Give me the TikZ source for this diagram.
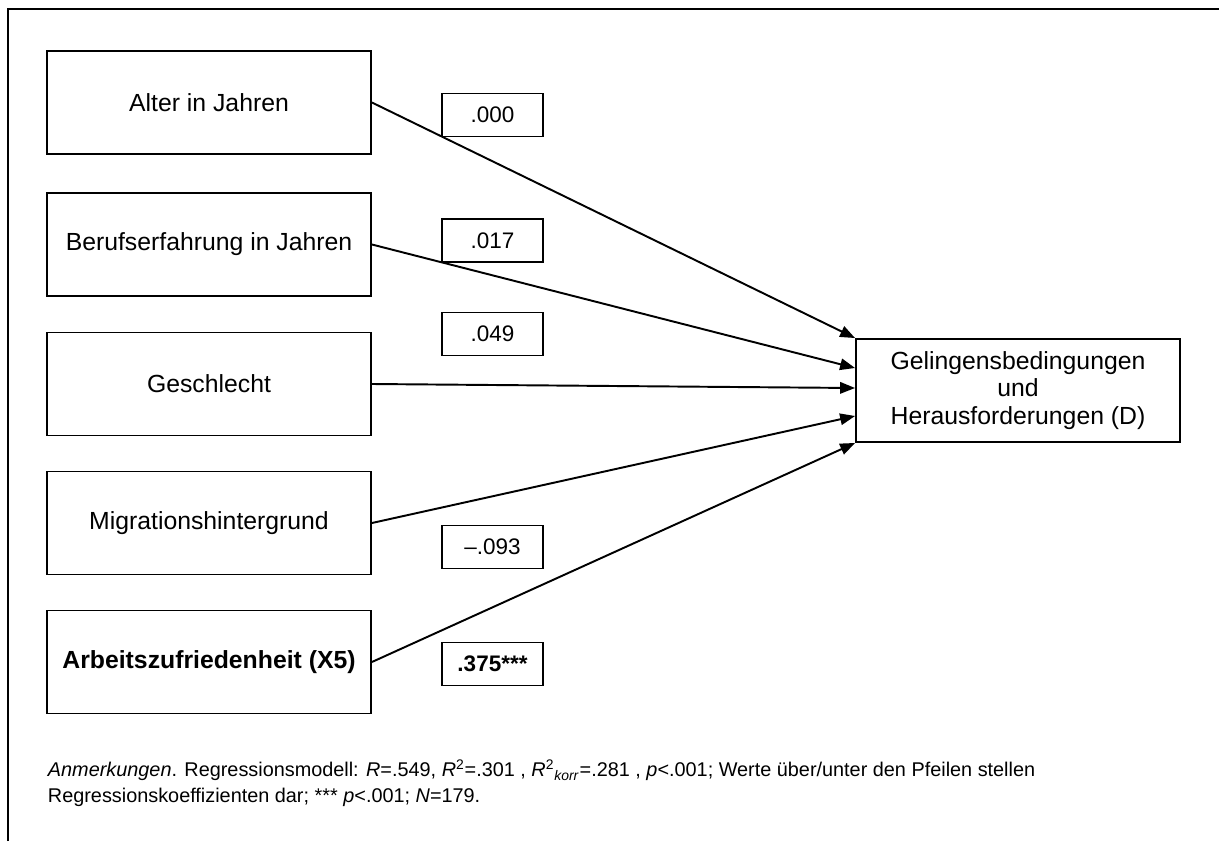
\documentclass[tikz,border=0pt]{standalone}
\usepackage{fontspec}
\setmainfont{Liberation Sans}
\usetikzlibrary{arrows.meta,calc,positioning}

\begin{document}
\begin{tikzpicture}[x=0.02cm, y=-0.02cm, line width=1.1pt,
  box/.style={draw, minimum width=6.48cm, minimum height=2.06cm, inner sep=0pt, align=center, font=\fontsize{14.1}{15.8}\selectfont},
  wert/.style={draw, minimum width=2.02cm, minimum height=0.86cm, inner sep=0pt, font=\fontsize{12.8}{14}\selectfont},
  pfeil/.style={-{Triangle[length=8.5pt,width=6.5pt]}}]

\useasboundingbox (0,0) rectangle (1219,841);

% Rahmen
\draw[line width=1.3pt] (8,841) -- (8,9) -- (1219,9);

\node[box] (alter)  at (209,102.5) {Alter in Jahren};
\node[box] (beruf)  at (209,244.5) {Berufserfahrung in Jahren};
\node[box] (geschl) at (209,384)   {Geschlecht};
\node[box] (migr)   at (209,523)   {Migrationshintergrund};
\node[box] (arbeit) at (209,662)   {\textbf{Arbeitszufriedenheit (X5)}};

\node[box] (ziel) at (1018,390.5) {Gelingensbedingungen\\und\\Herausforderungen (D)};

% Koeffizienten
\node[wert] (w1) at (492.5,115)   {.000};
\node[wert] (w2) at (492.5,240.5) {.017};
\node[wert] (w3) at (492.5,334)   {.049};
\node[wert] (w4) at (492.5,547)   {--.093};
\node[wert] (w5) at (492.5,664)   {\textbf{.375***}};

% Pfeile zur abhaengigen Variable
\draw[pfeil] (alter.east)  -- (ziel.north west);
\draw[pfeil] (beruf.east)  -- ([yshift=0.45cm]ziel.west);
\draw[pfeil] (geschl.east) -- ([yshift=0.05cm]ziel.west);
\draw[pfeil] (migr.east)   -- ([yshift=-0.51cm]ziel.west);
\draw[pfeil] (arbeit.east) -- (ziel.south west);

% Anmerkungen
\node[anchor=north west, align=left, inner sep=0pt, font=\fontsize{11.3}{14.5}\selectfont] (anm) at (47,759)
  {\textit{Anmerkungen}. Regressionsmodell: \textit{R}=.549, \textit{R}\textsuperscript{2}=.301 , \textit{R}\textsuperscript{2}\textsubscript{\textit{korr}}=.281 , \textit{p}<.001; Werte über/unter den Pfeilen stellen\\
   Regressionskoeffizienten dar; *** \textit{p}<.001; \textit{N}=179.};

\end{tikzpicture}
\end{document}
